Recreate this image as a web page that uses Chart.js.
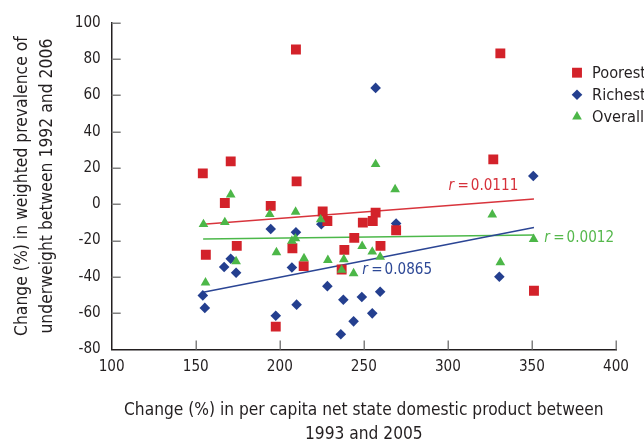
<!DOCTYPE html>
<html>
<head>
<meta charset="utf-8">
<script src="https://cdn.jsdelivr.net/npm/chart.js@4.4.1/dist/chart.umd.min.js"></script>
<style>
html, body { margin: 0; padding: 0; background: #fff; }
#wrap { width: 644px; height: 443px; }
</style>
</head>
<body>
<div id="wrap"><canvas id="chart" width="644" height="443"></canvas></div>
<script>
const seriesNames = ["Poorest", "Richest", "Overall"];

const poorestX = [154.2, 156.0, 167.3, 170.8, 174.4, 194.6, 197.6, 207.5, 209.6, 210.0, 214.2, 225.5, 228.3, 236.8, 238.4, 244.3, 249.4, 255.3, 257.0, 259.9, 269.2, 327.0, 331.2, 351.2];
const poorestY = [17.0, -27.8, 0.7, 23.6, -22.9, -0.9, -67.4, -24.2, 85.2, 12.6, -34.1, -4.0, -9.2, -35.9, -25.1, -18.5, -10.1, -9.2, -4.6, -22.9, -14.3, 24.7, 83.1, -47.6];

const richestX = [154.2, 155.4, 166.9, 170.8, 174.0, 194.6, 197.6, 207.2, 209.6, 210.0, 224.7, 228.3, 236.3, 237.8, 243.9, 248.8, 255.0, 257.0, 259.7, 269.2, 330.6, 350.8];
const richestY = [-50.2, -57.1, -34.6, -30.0, -37.7, -13.6, -61.4, -34.8, -15.4, -55.3, -11.0, -45.1, -71.6, -52.6, -64.5, -51.1, -60.1, 64.1, -48.2, -10.6, -39.9, 15.6];

const overallX = [154.6, 155.8, 167.3, 170.8, 174.0, 194.0, 198.0, 207.2, 209.3, 209.4, 214.4, 224.3, 228.6, 236.8, 238.1, 243.9, 249.0, 255.0, 257.0, 259.7, 268.6, 326.4, 331.2, 351.0];
const overallY = [-11.0, -43.2, -9.9, 5.3, -31.5, -5.5, -26.5, -20.2, -18.9, -4.2, -29.8, -8.4, -30.8, -36.2, -30.4, -38.1, -23.1, -26.2, 22.0, -29.0, 8.2, -5.7, -32.0, -19.2];

// regression lines (two end points each)
const fitX = [154.4, 351.2];
const poorestFitY = [-11.0, 2.9];
const richestFitY = [-48.5, -12.8];
const overallFitY = [-19.1, -17.0];
const rValues = ["0.0111", "0.0865", "0.0012"];

const xTicks = [100, 150, 200, 250, 300, 350, 400];
const yTicks = [-80, -60, -40, -20, 0, 20, 40, 60, 80, 100];

const xTitle = ["Change (%) in per capita net state domestic product between", "1993 and 2005"];
const yTitle = ["Change (%) in weighted prevalence of", "underweight between 1992 and 2006"];

// the original uses a condensed grotesque; pick the narrowest installed face
const probe = document.createElement("canvas").getContext("2d");
function hasFont(name) {
    const text = "Change (%) 0123456789 wmi";
    return ["monospace", "serif"].some((fb) => {
        probe.font = `40px ${fb}`;
        const w0 = probe.measureText(text).width;
        probe.font = `40px '${name}', ${fb}`;
        return probe.measureText(text).width !== w0;
    });
}
const FAMILY = ["Liberation Sans Narrow", "DejaVu Sans Condensed", "Liberation Sans"].find(hasFont) || "sans-serif";
const FONT = `'${FAMILY}', sans-serif`;

// font size that makes a text about as wide as it is in the original
function fitSize(text, width, style = "") {
    probe.font = `${style} 100px ${FONT}`;
    return Math.min(21, (100 * width) / probe.measureText(text).width);
}
const tickSize = fitSize("100", 26);
const legendSize = fitSize("Poorest", 54);
const xTitleSize = fitSize(xTitle[0], 480);
const yTitleSize = fitSize(yTitle[0], 300);
const rSize = fitSize("0.0111", 47.5);

const TEXT = "#231f20";
const colors = {
    poorest: "#d3222a",
    richest: "#243f8f",
    overall: "#4cb748",
    poorestLine: "#d8343c",
    richestLine: "#2b4594",
    overallLine: "#4cb84a",
};

function pts(xs, ys) {
    return xs.map((x, i) => ({ x, y: ys[i] }));
}

// tick marks point inward, as in the original figure
const innerTicks = {
    id: "innerTicks",
    beforeDatasetsDraw(chart) {
        const { ctx, scales: { x, y } } = chart;
        ctx.save();
        ctx.strokeStyle = "#808080";
        ctx.lineWidth = 1.5;
        ctx.beginPath();
        y.ticks.forEach((t) => {
            if (t.value === y.min) return;
            const py = Math.round(y.getPixelForValue(t.value)) + 0.25;
            ctx.moveTo(x.left, py);
            ctx.lineTo(x.left + 9, py);
        });
        x.ticks.forEach((t) => {
            if (t.value === x.min) return;
            const px = Math.round(x.getPixelForValue(t.value)) + 0.25;
            ctx.moveTo(px, y.bottom);
            ctx.lineTo(px, y.bottom - 9);
        });
        ctx.stroke();
        ctx.restore();
    },
};

const legendBox = {
    id: "legendBox",
    afterDraw(chart) {
        const ctx = chart.ctx;
        ctx.save();
        ctx.font = `${legendSize}px ${FONT}`;
        ctx.textBaseline = "middle";
        ctx.textAlign = "left";
        seriesNames.forEach((name, i) => {
            const ds = chart.data.datasets[i];
            const cy = 72.7 + i * 22;
            ctx.fillStyle = ds.backgroundColor;
            ctx.strokeStyle = ds.backgroundColor;
            if (Chart.helpers && Chart.helpers.drawPoint) {
                Chart.helpers.drawPoint(ctx, { pointStyle: ds.pointStyle, radius: ds.pointRadius, rotation: 0, borderWidth: 0 }, 577, cy);
            }
            ctx.fillStyle = TEXT;
            ctx.fillText(name, 592, cy + 1);
        });
        ctx.restore();
    },
};

// "r = ..." labels next to each regression line
const rLabels = {
    id: "rLabels",
    afterDatasetsDraw(chart, args, opts) {
        const { ctx, scales: { x, y } } = chart;
        ctx.save();
        ctx.textBaseline = "middle";
        opts.anchors.forEach((a, i) => {
            const px = x.getPixelForValue(a.x);
            const py = y.getPixelForValue(a.y);
            ctx.fillStyle = a.color;
            ctx.textAlign = "left";
            ctx.font = `italic ${rSize}px ${FONT}`;
            ctx.fillText("r", px, py);
            ctx.font = `${rSize}px ${FONT}`;
            ctx.textAlign = "center";
            ctx.fillText("=", px + 14.7, py);
            ctx.textAlign = "left";
            ctx.fillText(rValues[i], px + 22.4, py);
        });
        ctx.restore();
    },
};

const tickFont = { family: FONT, size: tickSize };

new Chart(document.getElementById("chart"), {
    type: "scatter",
    data: {
        datasets: [
            {
                label: seriesNames[0],
                data: pts(poorestX, poorestY),
                pointStyle: "rect",
                pointRadius: 7,
                backgroundColor: colors.poorest,
                borderWidth: 0,
                order: 2,
            },
            {
                label: seriesNames[1],
                data: pts(richestX, richestY),
                pointStyle: "rectRot",
                pointRadius: 5.3,
                backgroundColor: colors.richest,
                borderWidth: 0,
                order: 3,
            },
            {
                label: seriesNames[2],
                data: pts(overallX, overallY),
                pointStyle: "triangle",
                pointRadius: 5.6,
                backgroundColor: colors.overall,
                borderWidth: 0,
                order: 1,
            },
            {
                data: pts(fitX, poorestFitY),
                showLine: true,
                borderColor: colors.poorestLine,
                borderWidth: 1.5,
                pointRadius: 0,
                order: 4,
            },
            {
                data: pts(fitX, richestFitY),
                showLine: true,
                borderColor: colors.richestLine,
                borderWidth: 1.5,
                pointRadius: 0,
                order: 4,
            },
            {
                data: pts(fitX, overallFitY),
                showLine: true,
                borderColor: colors.overallLine,
                borderWidth: 1.5,
                pointRadius: 0,
                order: 4,
            },
        ],
    },
    options: {
        responsive: false,
        animation: false,
        devicePixelRatio: 1,
        layout: { padding: { top: 22.7, right: 28, left: 0, bottom: 0 } },
        plugins: {
            legend: { display: false },
            tooltip: { enabled: false },
            rLabels: {
                anchors: [
                    { x: 300.3, y: 9.9, color: "#d6303a" },
                    { x: 249.0, y: -36.3, color: "#2d4896" },
                    { x: 357.3, y: -18.5, color: "#55b84c" },
                ],
            },
        },
        scales: {
            x: {
                type: "linear",
                min: 100,
                max: 400,
                afterBuildTicks: (s) => { s.ticks = xTicks.map((v) => ({ value: v })); },
                afterFit: (s) => { s.height = 93.5; },
                ticks: { padding: 8, font: tickFont, color: TEXT, maxRotation: 0 },
                grid: { display: false, drawTicks: false },
                border: { color: "#231f20", width: 1.5 },
                title: {
                    display: true,
                    text: xTitle,
                    font: { family: FONT, size: xTitleSize, lineHeight: "24px" },
                    color: TEXT,
                    padding: { top: 0, bottom: -3.5 },
                },
            },
            y: {
                type: "linear",
                min: -80,
                max: 100,
                afterBuildTicks: (s) => { s.ticks = yTicks.map((v) => ({ value: v })); },
                afterFit: (s) => { s.width = 111.7; },
                ticks: { padding: 11, font: tickFont, color: TEXT },
                grid: { display: false, drawTicks: false },
                border: { color: "#231f20", width: 1.5 },
                title: {
                    display: true,
                    text: yTitle,
                    font: { family: FONT, size: yTitleSize, lineHeight: "25px" },
                    color: TEXT,
                    padding: { top: 9.5, bottom: 0 },
                },
            },
        },
    },
    plugins: [innerTicks, rLabels, legendBox],
});
</script>
</body>
</html>
